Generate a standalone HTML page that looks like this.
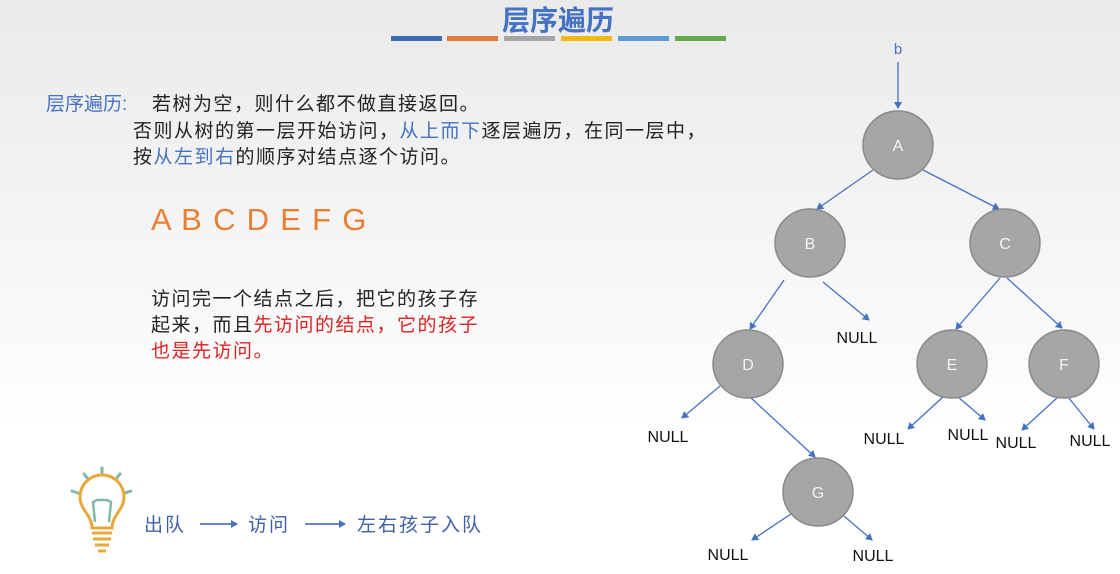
<!DOCTYPE html>
<html><head><meta charset="utf-8"><style>
html,body{margin:0;padding:0}
body{width:1120px;height:574px;overflow:hidden;background:linear-gradient(#eaeaea 0%,#f6f6f6 45%,#ffffff 75%);font-family:"Liberation Sans","Noto Sans CJK SC",sans-serif;}
</style></head><body>
<svg width="1120" height="574" xmlns="http://www.w3.org/2000/svg" style="position:absolute;left:0;top:0">
<defs><marker id="ar" markerWidth="8" markerHeight="8" refX="6" refY="4" orient="auto" markerUnits="userSpaceOnUse"><path d="M0,0 L7,4 L0,8 z" fill="#4472c4"/></marker></defs>
<g font-family="'Liberation Sans','Noto Sans CJK SC',sans-serif">
<text x="558" y="30" text-anchor="middle" font-size="28" font-weight="bold" fill="#4472c4">层序遍历</text>
<rect x="391" y="36" width="51" height="5" fill="#3e6bb7"/>
<rect x="447" y="36" width="51" height="5" fill="#e07b3a"/>
<rect x="504" y="36" width="51" height="5" fill="#a5a5a5"/>
<rect x="561" y="36" width="51" height="5" fill="#f2b817"/>
<rect x="618" y="36" width="51" height="5" fill="#5b9bd5"/>
<rect x="675" y="36" width="51" height="5" fill="#6aa84f"/>

<g font-size="19" letter-spacing="1.5">
<text x="46" y="110" fill="#4472c4" letter-spacing="0">层序遍历:</text>
<text x="152" y="110" fill="#222">若树为空，则什么都不做直接返回。</text>
<text x="133" y="137" fill="#222">否则从树的第一层开始访问，<tspan fill="#4472c4">从上而下</tspan>逐层遍历，在同一层中，</text>
<text x="133" y="163" fill="#222">按<tspan fill="#4472c4">从左到右</tspan>的顺序对结点逐个访问。</text>

<text x="151" y="305" fill="#222">访问完一个结点之后，把它的孩子存</text>
<text x="151" y="331" fill="#222">起来，而且<tspan fill="#e02020">先访问的结点，它的孩子</tspan></text>
<text x="151" y="357" fill="#e02020">也是先访问。</text>
</g>

<text x="151" y="230" font-size="31" fill="#ed7d31" letter-spacing="1.3" xml:space="preserve">A B C D E F G</text>

<!-- bulb -->
<g stroke="#7fb8a4" stroke-width="3" stroke-linecap="round">
<line x1="102" y1="468" x2="102" y2="474"/><line x1="84" y1="474" x2="88" y2="479"/><line x1="120" y1="474" x2="116" y2="479"/><line x1="72" y1="491" x2="78" y2="493"/><line x1="131" y1="491" x2="125" y2="493"/>
</g>
<path d="M92,528 C92,515 80,510 80,497 A22,22 0 1 1 124,497 C124,510 112,515 112,528 Z" fill="none" stroke="#e8a93a" stroke-width="3"/>
<path d="M95,522 L93,502 L97,500 L107,500 L111,502 L109,522" fill="none" stroke="#7fb8a4" stroke-width="2.5"/>
<g stroke="#e8a93a" stroke-width="3"><line x1="92" y1="533" x2="112" y2="533"/><line x1="93" y1="539" x2="111" y2="539"/><line x1="95" y1="545" x2="109" y2="545"/><line x1="98" y1="551" x2="106" y2="551"/></g>
<g font-size="19" letter-spacing="2" fill="#3f5fa8">
<text x="144" y="531">出队</text>
<text x="248" y="531">访问</text>
<text x="357" y="531">左右孩子入队</text>
</g>
<line x1="200" y1="524" x2="237" y2="524" stroke="#3f5fa8" stroke-width="1.5" marker-end="url(#ar)"/>
<line x1="305" y1="524" x2="345" y2="524" stroke="#3f5fa8" stroke-width="1.5" marker-end="url(#ar)"/>

<!-- tree -->
<g stroke="#4472c4" stroke-width="1.3" marker-end="url(#ar)">
<line x1="898" y1="62" x2="898" y2="108"/>
<line x1="873" y1="170" x2="817" y2="209"/>
<line x1="923" y1="170" x2="999" y2="209"/>
<line x1="784" y1="280" x2="750" y2="329"/>
<line x1="823" y1="282" x2="869" y2="320"/>
<line x1="1000" y1="278" x2="956" y2="329"/>
<line x1="1007" y1="278" x2="1062" y2="328"/>
<line x1="720" y1="386" x2="682" y2="418"/>
<line x1="750" y1="397" x2="815" y2="457"/>
<line x1="943" y1="397" x2="908" y2="429"/>
<line x1="958" y1="397" x2="985" y2="420"/>
<line x1="1058" y1="397" x2="1022" y2="430"/>
<line x1="1068" y1="397" x2="1094" y2="429"/>
<line x1="800" y1="508" x2="752" y2="540"/>
<line x1="844" y1="516" x2="872" y2="540"/>
</g>
<text x="898" y="54" text-anchor="middle" font-size="15" fill="#4472c4">b</text>
<g fill="#a6a6a6" stroke="#8a8a8a" stroke-width="1.5">
<ellipse cx="898" cy="145" rx="35" ry="34"/>
<ellipse cx="810" cy="243" rx="35" ry="34"/>
<ellipse cx="1005" cy="243" rx="35" ry="34"/>
<ellipse cx="748" cy="364" rx="35" ry="34"/>
<ellipse cx="952" cy="364" rx="35" ry="34"/>
<ellipse cx="1064" cy="364" rx="35" ry="34"/>
<ellipse cx="818" cy="492" rx="35" ry="34"/>
</g>
<g fill="#f4f4f4" font-size="16" text-anchor="middle">
<text x="898" y="151">A</text><text x="810" y="249">B</text><text x="1005" y="249">C</text>
<text x="748" y="370">D</text><text x="952" y="370">E</text><text x="1064" y="370">F</text><text x="818" y="498">G</text>
</g>
<g fill="#111" font-size="16" text-anchor="middle">
<text x="857" y="343">NULL</text>
<text x="668" y="442">NULL</text>
<text x="884" y="444">NULL</text>
<text x="968" y="440">NULL</text>
<text x="1016" y="448">NULL</text>
<text x="1090" y="446">NULL</text>
<text x="728" y="560">NULL</text>
<text x="873" y="561">NULL</text>
</g>
</g>
</svg>
</body></html>
